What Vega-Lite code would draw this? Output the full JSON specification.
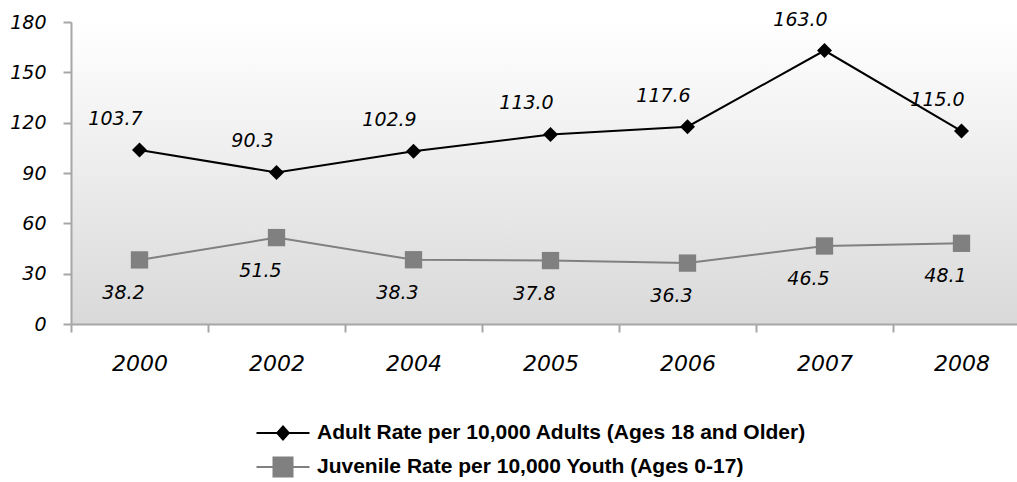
{
  "$schema": "https://vega.github.io/schema/vega-lite/v6.json",
  "width": 959,
  "height": 302,
  "autosize": "none",
  "padding": {"left": 71, "top": 22, "right": 0, "bottom": 158},
  "background": "white",
  "config": {
    "font": "DejaVu Sans",
    "view": {
      "stroke": null,
      "fill": {"gradient": "linear", "x1": 0, "y1": 0, "x2": 0, "y2": 1,
        "stops": [{"offset": 0, "color": "#ffffff"}, {"offset": 1, "color": "#d9d9d9"}]}
    }
  },
  "data": {
    "values": [
      {"year": "2000", "series": "Adult Rate per 10,000 Adults (Ages 18 and Older)", "rate": 103.7},
      {"year": "2002", "series": "Adult Rate per 10,000 Adults (Ages 18 and Older)", "rate": 90.3},
      {"year": "2004", "series": "Adult Rate per 10,000 Adults (Ages 18 and Older)", "rate": 102.9},
      {"year": "2005", "series": "Adult Rate per 10,000 Adults (Ages 18 and Older)", "rate": 113.0},
      {"year": "2006", "series": "Adult Rate per 10,000 Adults (Ages 18 and Older)", "rate": 117.6},
      {"year": "2007", "series": "Adult Rate per 10,000 Adults (Ages 18 and Older)", "rate": 163.0},
      {"year": "2008", "series": "Adult Rate per 10,000 Adults (Ages 18 and Older)", "rate": 115.0},
      {"year": "2000", "series": "Juvenile Rate per 10,000 Youth (Ages 0-17)", "rate": 38.2},
      {"year": "2002", "series": "Juvenile Rate per 10,000 Youth (Ages 0-17)", "rate": 51.5},
      {"year": "2004", "series": "Juvenile Rate per 10,000 Youth (Ages 0-17)", "rate": 38.3},
      {"year": "2005", "series": "Juvenile Rate per 10,000 Youth (Ages 0-17)", "rate": 37.8},
      {"year": "2006", "series": "Juvenile Rate per 10,000 Youth (Ages 0-17)", "rate": 36.3},
      {"year": "2007", "series": "Juvenile Rate per 10,000 Youth (Ages 0-17)", "rate": 46.5},
      {"year": "2008", "series": "Juvenile Rate per 10,000 Youth (Ages 0-17)", "rate": 48.1}
    ]
  },
  "encoding": {
    "x": {
      "field": "year", "type": "ordinal", "sort": null,
      "scale": {"type": "band", "paddingInner": 0, "paddingOuter": 0},
      "axis": {
        "title": null, "labelAngle": 0, "tickBand": "extent",
        "domainColor": "#a6a6a6", "domainWidth": 2, "tickColor": "#a6a6a6", "tickWidth": 2, "tickSize": 8,
        "labelFontSize": 22, "labelFontStyle": "italic", "labelColor": "#000000", "labelPadding": 21
      }
    },
    "y": {
      "field": "rate", "type": "quantitative",
      "scale": {"domain": [0, 180], "nice": false},
      "axis": {
        "title": null, "grid": false, "values": [0, 30, 60, 90, 120, 150, 180],
        "domainColor": "#a6a6a6", "domainWidth": 2, "tickColor": "#a6a6a6", "tickWidth": 2, "tickSize": 8,
        "labelFontSize": 19, "labelFontStyle": "italic", "labelColor": "#000000", "labelPadding": 17
      }
    },
    "color": {
      "field": "series", "type": "nominal",
      "scale": {
        "domain": ["Adult Rate per 10,000 Adults (Ages 18 and Older)", "Juvenile Rate per 10,000 Youth (Ages 0-17)"],
        "range": ["#000000", "#808080"]
      },
      "legend": {
        "orient": "none", "legendX": 201, "legendY": 400, "direction": "vertical",
        "title": null, "padding": 0, "rowPadding": 9,
        "symbolSize": 400, "labelOffset": 23, "labelLimit": 1000,
        "labelFont": "Liberation Sans", "labelFontWeight": "bold", "labelFontSize": 21, "labelColor": "#000000",
        "encode": {
          "symbols": {
            "update": {
              "shape": {"signal": "indexof(datum.value, 'Adult') == 0 ? 'M-2.65,0H2.65M0,-0.65L0.58,0L0,0.65L-0.58,0Z' : 'M-2.65,0H2.65M-0.95,-0.95H0.95V0.95H-0.95Z'"},
              "fill": {"signal": "indexof(datum.value, 'Adult') == 0 ? '#000000' : '#808080'"},
              "stroke": {"signal": "indexof(datum.value, 'Adult') == 0 ? '#000000' : '#808080'"},
              "strokeWidth": {"value": 2},
              "opacity": {"value": 1},
              "fillOpacity": {"value": 1},
              "strokeOpacity": {"value": 1}
            }
          }
        }
      }
    }
  },
  "layer": [
    {"mark": {"type": "line", "strokeWidth": 2}},
    {
      "mark": {"type": "point", "filled": true, "opacity": 1},
      "encoding": {
        "shape": {"field": "series", "type": "nominal", "scale": {"range": ["diamond", "square"]}, "legend": null},
        "size": {"field": "series", "type": "nominal", "scale": {"range": [225, 300]}, "legend": null}
      }
    },
    {
      "transform": [{"filter": "indexof(datum.series, 'Adult') == 0"}],
      "mark": {"type": "text", "dx": -24, "dy": -31, "fontSize": 19, "fontStyle": "italic", "color": "#000000"},
      "encoding": {"text": {"field": "rate", "type": "quantitative", "format": ".1f"}, "color": {"value": "#000000"}}
    },
    {
      "transform": [{"filter": "indexof(datum.series, 'Juvenile') == 0"}],
      "mark": {"type": "text", "dx": -16, "dy": 33, "fontSize": 19, "fontStyle": "italic", "color": "#000000"},
      "encoding": {"text": {"field": "rate", "type": "quantitative", "format": ".1f"}, "color": {"value": "#000000"}}
    }
  ]
}
